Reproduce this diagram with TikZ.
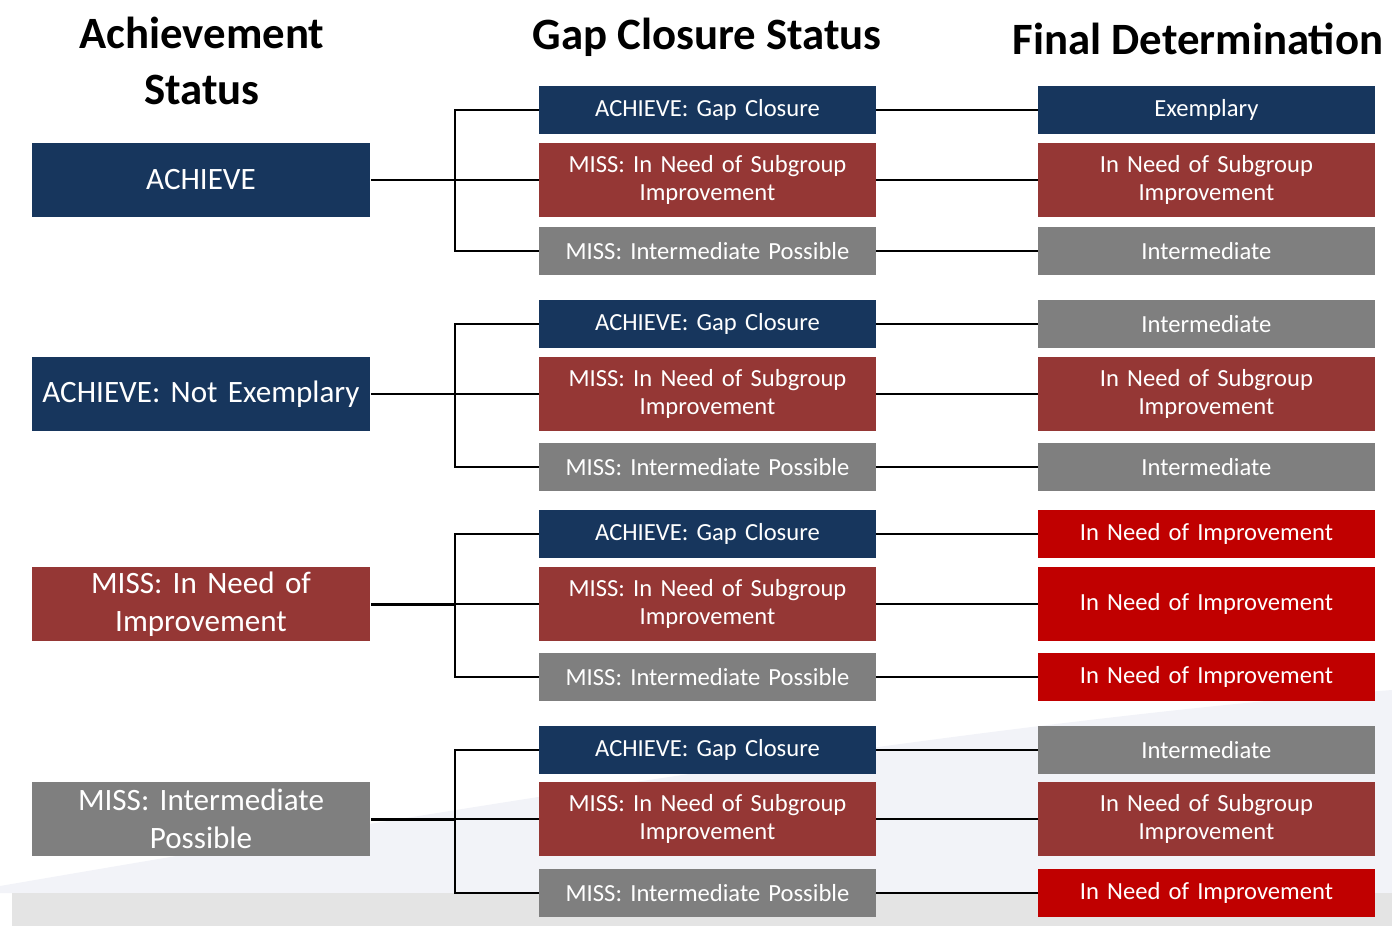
\documentclass[tikz,border=0pt]{standalone}
\usepackage{fontspec}
\setmainfont{Carlito}
\usetikzlibrary{backgrounds}

\definecolor{navy}{RGB}{23,54,93}
\definecolor{dkred}{RGB}{149,55,53}
\definecolor{midgray}{RGB}{127,127,127}
\definecolor{brred}{RGB}{192,0,0}
\definecolor{swoosh}{RGB}{242,243,248}
\definecolor{band}{RGB}{228,228,228}

\begin{document}
\begin{tikzpicture}[x=0.02cm,y=-0.02cm,-,node distance=9.98cm,
        head/.style={align=center,font=\fontsize{25.5}{31.5}\selectfont\bfseries},
        box/.style={rectangle,inner sep=0pt,minimum width=6.74cm,text width=6.6cm,align=center,
          text=white,font=\fontsize{14}{15.5}\selectfont},
        lo/.style={minimum height=0.96cm},
        hi/.style={minimum height=1.48cm},
        big/.style={box,minimum width=6.78cm,minimum height=1.48cm,font=\fontsize{17.7}{21.5}\selectfont},
        ach/.style={fill=navy},
        sub/.style={fill=dkred},
        int/.style={fill=midgray},
        ini/.style={fill=brred},
        link/.style={line width=0.8pt},
        trunk/.style={line width=1.7pt}]
        \useasboundingbox (0,0) rectangle (1392,926);
        % background
        \fill[swoosh] (0,886) .. controls (500,800) and (1000,720) .. (1392,690) -- (1392,893) -- (0,893) -- cycle;
        \fill[band] (12,893) rectangle (1392,926);
        % headings
        \node[head] (h1) at (202,61) {Achievement\\Status};
        \node[head] (h2) at (707,37) {Gap Closure Status};
        \node[head] (h3) at (1198,39) {Final Determination};
        % achievement status
        \node[big,ach] (a1) at (201,180) {ACHIEVE};
        \node[big,ach] (a2) at (201,394) {ACHIEVE: Not Exemplary};
        \node[big,sub] (a3) at (201,604) {MISS: In Need of\\Improvement};
        \node[big,int] (a4) at (201,819) {MISS: Intermediate\\Possible};
        % gap closure status
        \node[box,lo,ach] (g11) at (707.5,110) {ACHIEVE: Gap Closure};
        \node[box,hi,sub] (g12) at (707.5,180) {MISS: In Need of Subgroup\\Improvement};
        \node[box,lo,int] (g13) at (707.5,251) {MISS: Intermediate Possible};
        \node[box,lo,ach] (g21) at (707.5,324) {ACHIEVE: Gap Closure};
        \node[box,hi,sub] (g22) at (707.5,394) {MISS: In Need of Subgroup\\Improvement};
        \node[box,lo,int] (g23) at (707.5,467) {MISS: Intermediate Possible};
        \node[box,lo,ach] (g31) at (707.5,534) {ACHIEVE: Gap Closure};
        \node[box,hi,sub] (g32) at (707.5,604) {MISS: In Need of Subgroup\\Improvement};
        \node[box,lo,int] (g33) at (707.5,677) {MISS: Intermediate Possible};
        \node[box,lo,ach] (g41) at (707.5,750) {ACHIEVE: Gap Closure};
        \node[box,hi,sub] (g42) at (707.5,819) {MISS: In Need of Subgroup\\Improvement};
        \node[box,lo,int] (g43) at (707.5,893) {MISS: Intermediate Possible};
        % final determination
        \node[box,lo,ach] (f11) [right of=g11] {Exemplary};
        \node[box,hi,sub] (f12) [right of=g12] {In Need of Subgroup\\Improvement};
        \node[box,lo,int] (f13) [right of=g13] {Intermediate};
        \node[box,lo,int] (f21) [right of=g21] {Intermediate};
        \node[box,hi,sub] (f22) [right of=g22] {In Need of Subgroup\\Improvement};
        \node[box,lo,int] (f23) [right of=g23] {Intermediate};
        \node[box,lo,ini] (f31) [right of=g31] {In Need of Improvement};
        \node[box,hi,ini] (f32) [right of=g32] {In Need of Improvement};
        \node[box,lo,ini] (f33) [right of=g33] {In Need of Improvement};
        \node[box,lo,int] (f41) [right of=g41] {Intermediate};
        \node[box,hi,sub] (f42) [right of=g42] {In Need of Subgroup\\Improvement};
        \node[box,lo,ini] (f43) [right of=g43] {In Need of Improvement};
        % brackets
        \foreach \i in {1,...,4} {
          \coordinate (j\i) at (455,0 |- a\i);
          \draw[trunk] (a\i.east) -- (j\i);
          \draw[link] (g\i1.west) -| (j\i) |- (g\i3.west);
          \draw[link] (j\i) -- (g\i2.west);
          \path[link] (g\i1) edge (f\i1)
                      (g\i2) edge (f\i2)
                      (g\i3) edge (f\i3);
        }
      \end{tikzpicture}
\end{document}
